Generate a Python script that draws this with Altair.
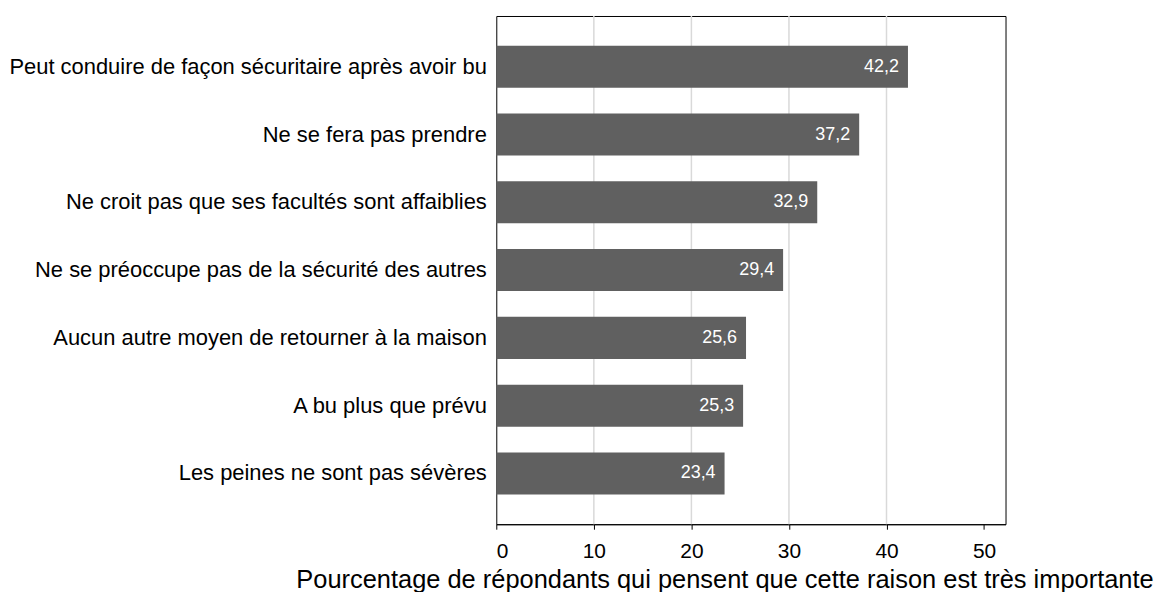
import altair as alt
import pandas as pd

categories = [
    "Peut conduire de façon sécuritaire après avoir bu",
    "Ne se fera pas prendre",
    "Ne croit pas que ses facultés sont affaiblies",
    "Ne se préoccupe pas de la sécurité des autres",
    "Aucun autre moyen de retourner à la maison",
    "A bu plus que prévu",
    "Les peines ne sont pas sévères",
]
values = [42.2, 37.2, 32.9, 29.4, 25.6, 25.3, 23.4]
tick_values = [0, 10, 20, 30, 40, 50]
grid_values = [10, 20, 30, 40]

df = pd.DataFrame({
    "cat": categories,
    "val": values,
    "lab": [f"{v:.1f}".replace(".", ",") for v in values],
})
grid_df = pd.DataFrame({"g": grid_values})

FONT = "Liberation Sans"
xscale = alt.Scale(domain=[0, 52.2], nice=False, zero=True)

grid = alt.Chart(grid_df).mark_rule(color="#d9d9d9", strokeWidth=1.5).encode(
    x=alt.X("g:Q", scale=xscale)
)

bars = alt.Chart(df).mark_bar(color="#606060").encode(
    y=alt.Y("cat:N", sort=categories, title=None,
            scale=alt.Scale(paddingInner=0.38, paddingOuter=0.44),
            axis=alt.Axis(labelFont=FONT, labelFontSize=22, labelColor="black",
                          ticks=False, domain=False, labelPadding=10, labelLimit=700)),
    x=alt.X("val:Q", scale=xscale,
            title="Pourcentage de répondants qui pensent que cette raison est très importante",
            axis=alt.Axis(values=tick_values, grid=False, labelFont=FONT, labelFontSize=21,
                          labelColor="black", titleFont=FONT, titleFontSize=25.5,
                          titleFontWeight="normal", titleColor="black",
                          domainColor="black", tickColor="black", tickSize=5,
                          labelPadding=11, titlePadding=6, titleX=229, titleAlign="center")),
)

text = alt.Chart(df).mark_text(color="white", font=FONT, fontSize=18, align="right",
                               baseline="middle", dx=-9).encode(
    y=alt.Y("cat:N", sort=categories),
    x=alt.X("val:Q", scale=xscale),
    text="lab:N",
)

chart = (grid + bars + text).properties(
    width=511, height=510, background="white",
    padding={"left": 0, "top": 6, "right": 0, "bottom": 0},
).configure_view(stroke="black", strokeWidth=1)

chart.save("out.html", embed_options={"renderer": "svg", "actions": False})
